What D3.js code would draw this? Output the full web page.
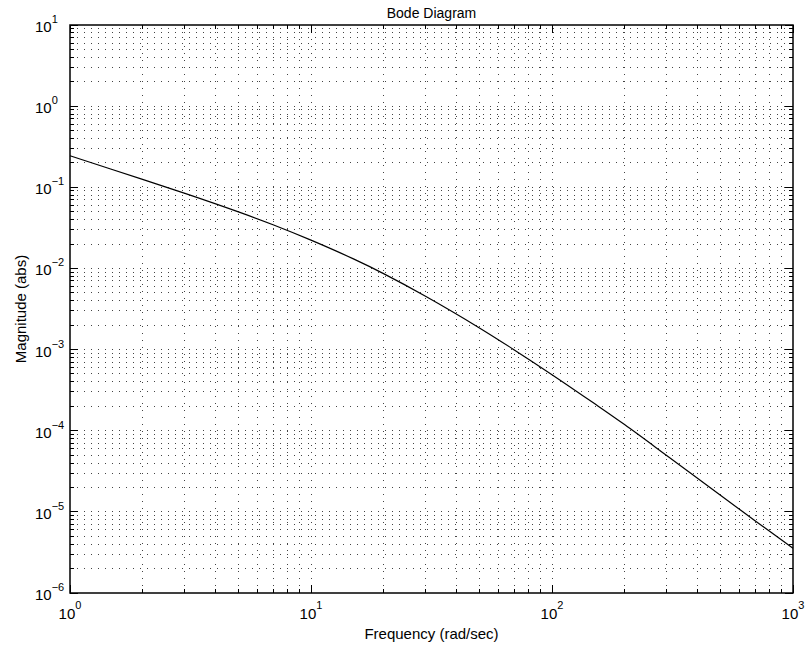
<!DOCTYPE html>
<html>
<head>
<meta charset="utf-8">
<script src="https://cdn.jsdelivr.net/npm/d3@7"></script>
<style>
  body { margin: 0; background: #fff; }
  text { font-family: "Liberation Sans", Arial, Helvetica, sans-serif; fill: #000; }
</style>
</head>
<body>
<svg id="chart" width="809" height="656"></svg>
<script>
// frequency (rad/sec) and magnitude (abs)
const freq = [1, 2, 3, 5, 7, 10, 15, 20, 30, 50, 70, 100, 150, 200, 300, 500, 700, 1000];
const magnitude = [0.245, 0.125, 0.0841, 0.0497, 0.0343, 0.0223, 0.0131, 0.00863, 0.00451, 0.00185,
                   0.000984, 0.000491, 0.000216, 0.000119, 0.0000492, 0.0000160, 0.00000767, 0.00000356];
const xExponents = [0, 1, 2, 3];
const yExponents = [-6, -5, -4, -3, -2, -1, 0, 1];
const titleText = "Bode Diagram";
const xLabelText = "Frequency  (rad/sec)";
const yLabelText = "Magnitude (abs)";

const width = 809, height = 656;
const margin = {top: 25, right: 16, bottom: 63, left: 70};
const svg = d3.select("#chart");

const x = d3.scaleLog().domain([1, 1000]).range([margin.left, width - margin.right]);
const y = d3.scaleLog().domain([1e-6, 10]).range([height - margin.bottom, margin.top]);
const x0 = x.range()[0], x1 = x.range()[1];
const y0 = y.range()[0], y1 = y.range()[1];

const isMajor = v => Math.abs(Math.log10(v) - Math.round(Math.log10(v))) < 1e-9;

// dotted grid on every major and minor tick
let grid = svg.append("g")
    .attr("stroke", "#444")
    .attr("stroke-width", 1)
    .attr("stroke-dasharray", "1,6")
    .attr("shape-rendering", "crispEdges");
grid.selectAll(".gx")
    .data(x.ticks().filter(v => v > 1 && v < 1000))
    .join("line")
    .attr("x1", d => x(d)).attr("x2", d => x(d))
    .attr("y1", y1).attr("y2", y0);
grid.selectAll(".gy")
    .data(y.ticks().filter(v => v > 1e-6 && v < 10))
    .join("line")
    .attr("y1", d => y(d)).attr("y2", d => y(d))
    .attr("x1", x0).attr("x2", x1);

// ticks on all four sides, pointing inward
let ticks = svg.append("g").attr("stroke", "#000").attr("stroke-width", 1)
    .attr("shape-rendering", "crispEdges");
let tickLen = d => isMajor(d) ? 8 : 4;
ticks.selectAll(".tb").data(x.ticks()).join("line")
    .attr("x1", d => x(d)).attr("x2", d => x(d))
    .attr("y1", y0).attr("y2", d => y0 - tickLen(d));
ticks.selectAll(".tt").data(x.ticks()).join("line")
    .attr("x1", d => x(d)).attr("x2", d => x(d))
    .attr("y1", y1).attr("y2", d => y1 + tickLen(d));
ticks.selectAll(".tl").data(y.ticks()).join("line")
    .attr("y1", d => y(d)).attr("y2", d => y(d))
    .attr("x1", x0).attr("x2", d => x0 + tickLen(d));
ticks.selectAll(".tr").data(y.ticks()).join("line")
    .attr("y1", d => y(d)).attr("y2", d => y(d))
    .attr("x1", x1).attr("x2", d => x1 - tickLen(d));

// the response curve
let line = d3.line()
    .x((d, i) => x(freq[i]))
    .y(d => y(d))
    .curve(d3.curveCatmullRom.alpha(0.5));
svg.append("path")
    .datum(magnitude)
    .attr("fill", "none")
    .attr("stroke", "#000")
    .attr("stroke-width", 1.2)
    .attr("d", line);

// box
svg.append("rect")
    .attr("x", x0).attr("y", y1)
    .attr("width", x1 - x0).attr("height", y0 - y1)
    .attr("fill", "none").attr("stroke", "#000").attr("stroke-width", 1.5);

// tick labels 10^n
let xl = svg.selectAll(".xlab").data(xExponents).join("text")
    .attr("x", d => x(Math.pow(10, d)))
    .attr("y", y0 + 26)
    .attr("text-anchor", "middle")
    .style("font-size", "15px");
xl.append("tspan").text("10");
xl.append("tspan").attr("dy", -10).style("font-size", "11px")
    .text(d => String(d).replace("-", "\u2212"));

let yl = svg.selectAll(".ylab").data(yExponents).join("text")
    .attr("x", 35)
    .attr("y", d => y(Math.pow(10, d)) + 7)
    .attr("text-anchor", "start")
    .style("font-size", "15px");
yl.append("tspan").text("10");
yl.append("tspan").attr("dy", -9).style("font-size", "11px")
    .text(d => String(d).replace("-", "\u2212"));

// title and axis labels
svg.append("text")
    .attr("x", (x0 + x1) / 2).attr("y", 18)
    .attr("text-anchor", "middle")
    .style("font-size", "14px")
    .text(titleText);
svg.append("text")
    .attr("x", (x0 + x1) / 2).attr("y", 639)
    .attr("text-anchor", "middle")
    .style("font-size", "15px")
    .text(xLabelText);
svg.append("text")
    .attr("transform", `translate(26,${(y0 + y1) / 2}) rotate(-90)`)
    .attr("text-anchor", "middle")
    .style("font-size", "15px")
    .text(yLabelText);
</script>
</body>
</html>
